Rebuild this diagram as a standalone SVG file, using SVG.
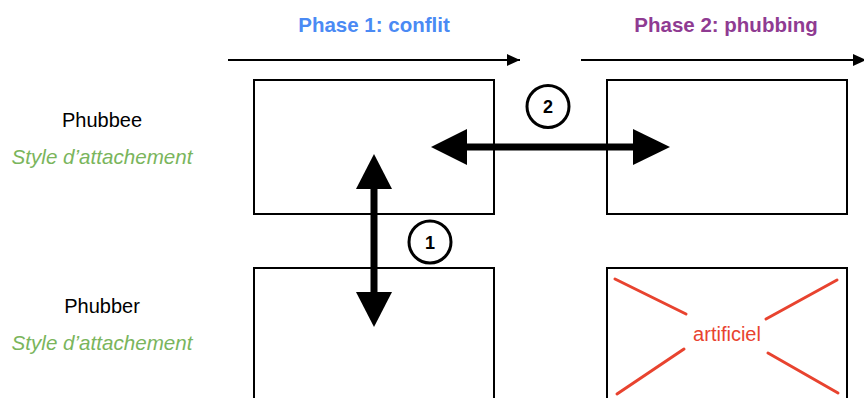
<svg xmlns="http://www.w3.org/2000/svg" width="864" height="398" viewBox="0 0 864 398">
<style>
.box{fill:#fff;stroke:#000;stroke-width:2}
.lbl{font-family:"Liberation Sans",Arial,sans-serif;font-size:20px;fill:#000;text-anchor:middle}
.sty{font-family:"Liberation Sans",Arial,sans-serif;font-size:20.6px;font-style:italic;fill:#7ab55c;text-anchor:middle}
.ph{font-family:"Liberation Sans",Arial,sans-serif;font-size:20.5px;font-weight:bold;text-anchor:middle}
.num{font-family:"Liberation Sans",Arial,sans-serif;font-size:18px;font-weight:bold;text-anchor:middle;fill:#000}
.circ{fill:#fff;stroke:#000;stroke-width:3}
.big{stroke:#000;stroke-width:7;fill:none}
.red{stroke:#e8432f;stroke-width:3;stroke-linecap:round}
</style>
<defs>
<marker id="sm" viewBox="0 0 13 12" refX="13" refY="6" markerWidth="13" markerHeight="12" markerUnits="userSpaceOnUse" orient="auto">
<path d="M0,0 L13,6 L0,12 Z" fill="#000"/>
</marker>
</defs>
<rect width="864" height="398" fill="#fff"/>
<text class="ph" x="374" y="32" fill="#4a8af4">Phase 1: conflit</text>
<text class="ph" x="726" y="32" fill="#8f3b92">Phase 2: phubbing</text>
<g id="left-labels">
<text class="lbl" x="102" y="127">Phubbee</text>
<text class="sty" x="102" y="164">Style d’attachement</text>
<text class="lbl" x="102" y="313">Phubber</text>
<text class="sty" x="102" y="350">Style d’attachement</text>
</g>
<g id="box-phubbee-p1"><rect class="box" x="254" y="80" width="240" height="134"/></g>
<g id="box-phubbee-p2"><rect class="box" x="607" y="80" width="240" height="134"/></g>
<g id="box-phubber-p1"><rect class="box" x="254" y="268" width="240" height="140"/></g>
<g id="box-phubber-p2"><rect class="box" x="607" y="268" width="240" height="140"/>
<line class="red" x1="615" y1="279" x2="686" y2="314"/>
<line class="red" x1="837" y1="280" x2="766" y2="319"/>
<line class="red" x1="617" y1="394" x2="684" y2="349"/>
<line class="red" x1="768" y1="353" x2="838" y2="393"/>
<text class="lbl" x="727" y="341" style="fill:#e8432f">artificiel</text>
</g>
<g id="connectors">
<line x1="228" y1="60" x2="520" y2="60" stroke="#000" stroke-width="2" marker-end="url(#sm)"/>
<line x1="581" y1="60" x2="866" y2="60" stroke="#000" stroke-width="2" marker-end="url(#sm)"/>
<line class="big" x1="466" y1="147" x2="634" y2="147"/>
<path d="M431,147 L467,129 L467,165 Z" fill="#000"/>
<path d="M670,147 L633,129 L633,165 Z" fill="#000"/>
<line class="big" x1="374" y1="188" x2="374" y2="292"/>
<path d="M374,154 L356,189 L392,189 Z" fill="#000"/>
<path d="M374,327 L356,292 L392,292 Z" fill="#000"/>
</g>
<g id="badge-2"><circle class="circ" cx="548" cy="106.5" r="21"/><text class="num" x="548" y="113">2</text></g>
<g id="badge-1"><circle class="circ" cx="430" cy="242" r="21"/><text class="num" x="430" y="248.5">1</text></g>
</svg>
